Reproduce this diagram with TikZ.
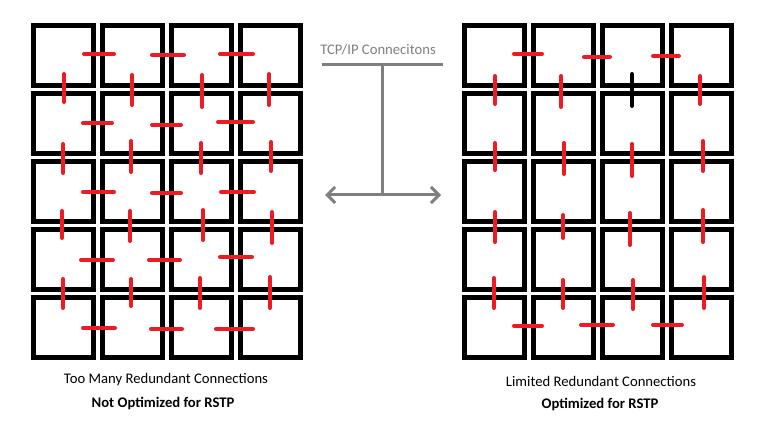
\documentclass[tikz,border=0pt]{standalone}
\usepackage{fontspec}
\setmainfont{Carlito}
\usetikzlibrary{arrows.meta}
\definecolor{linkred}{HTML}{ED1C24}
\definecolor{busgray}{HTML}{7F7F7F}
\tikzset{
  switchbox/.style={draw, line width=3.75pt, minimum size=45pt, inner sep=0pt},
  link/.style={draw=linkred, line width=3pt, line cap=round},
  spare/.style={draw=black, line width=3pt, line cap=round},
  bus/.style={draw=busgray, line width=2.25pt},
  caption/.style={font=\fontsize{11}{13}\selectfont, inner sep=0pt}
}
\begin{document}
\begin{tikzpicture}[x=0.75pt, y=-0.75pt]
    \useasboundingbox (0,0) rectangle (773,434);
    % 1. Lưới switch bên trái và bên phải
    \foreach \r in {1,...,5} {
      \foreach \c in {1,...,4} {
        \node[switchbox] (L-\r-\c) at ({31+69*(\c-1)+32.5}, {23+68*(\r-1)+32.5}) {};
        \node[switchbox] (R-\r-\c) at ({462+69*(\c-1)+32.5}, {23+68*(\r-1)+32.5}) {};
      }
    }
    % 2. Kết nối dư thừa (trái)
    \foreach \y/\a/\b in {54/84/114, 55/152/184, 54/220/253,
        123/83/112, 125/152/181, 122/218/253,
        192/83/114, 193/152/181, 192/221/254,
        260/81/113, 260/149/180, 257/220/252,
        328/83/115, 329/151/182, 329/216/253}
      \draw[link] (\a,\y) -- (\b,\y);
    \foreach \x/\a/\b in {64/74/102, 132/75/105, 202/75/107, 269/74/105,
        63/144/173, 131/141/172, 201/143/173, 271/142/171,
        62/211/238, 130/211/241, 203/210/240, 272/212/243,
        63/279/308, 131/279/306, 200/278/308, 270/277/308}
      \draw[link] (\x,\a) -- (\x,\b);
    % 3. Kết nối giới hạn (phải)
    \foreach \y/\a/\b in {54/514/542, 57/584/610, 56/653/679,
        326/514/542, 325/581/613, 325/653/682}
      \draw[link] (\a,\y) -- (\b,\y);
    \foreach \x/\a/\b in {495/76/104, 561/76/107, 700/76/104,
        495/143/170, 564/143/174, 632/144/176, 703/141/171,
        495/212/242, 563/215/238, 630/213/245, 703/210/242,
        494/278/308, 563/280/308, 633/280/309, 704/277/308}
      \draw[link] (\x,\a) -- (\x,\b);
    \draw[spare] (632,74) -- (632,106);
    % 4. Đường TCP/IP ở giữa
    \node[caption, text=busgray] (tcp) at (378,50) {TCP/IP Connecitons};
    \coordinate (bus-l) at (322,65);
    \coordinate (bus-r) at (443,65);
    \coordinate (tap-top) at (382,65);
    \coordinate (tap-bot) at (382,195);
    \coordinate (arr-l) at (325,195);
    \coordinate (arr-r) at (441,195);
    \draw[bus] (bus-l) -- (bus-r);
    \draw[bus] (tap-top) -- (tap-bot);
    \draw[bus, {Straight Barb[length=6pt,width=12pt]}-{Straight Barb[length=6pt,width=12pt]}] (arr-l) -- (arr-r);
    % 5. Chú thích
    \node[caption] (left-a) at (166,380) {Too Many Redundant Connections};
    \node[caption, font=\fontsize{11}{13}\selectfont\bfseries] (left-b) at (163,403) {Not Optimized for RSTP};
    \node[caption] (right-a) at (601,381) {Limited Redundant Connections};
    \node[caption, font=\fontsize{11}{13}\selectfont\bfseries] (right-b) at (600,404) {Optimized for RSTP};
\end{tikzpicture}
\end{document}
